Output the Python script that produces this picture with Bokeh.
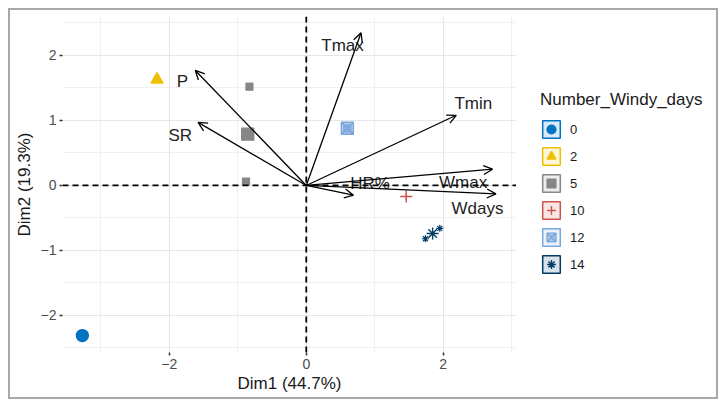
import numpy as np
import pandas as pd
from bokeh.plotting import figure
from bokeh.layouts import row
from bokeh.models import (ColumnDataSource, Arrow, OpenHead, Span, Legend,
                          LegendItem, FixedTicker)
from bokeh.core.properties import value
from bokeh.embed import file_html
from bokeh.resources import INLINE

# ---------------- data ----------------
ind_x = [-3.27, -2.18, -0.83, -0.88, 1.46, 0.60, 1.74, 1.95]
ind_y = [-2.31, 1.63, 1.52, 0.06, -0.17, 0.88, -0.82, -0.66]
ind_group = ["0", "2", "5", "5", "10", "12", "14", "14"]

var_names = ["Tmax", "Tmin", "Wmax", "Wdays", "HR%", "P", "SR"]
var_x = [0.80, 2.19, 2.72, 2.77, 0.69, -1.62, -1.58]
var_y = [2.35, 1.08, 0.25, -0.13, -0.15, 1.77, 0.97]
lab_x = [0.53, 2.44, 2.29, 2.50, 0.93, -1.81, -1.84]
lab_y = [2.15, 1.26, 0.05, -0.35, 0.03, 1.60, 0.77]

groups = ["0", "2", "5", "10", "12", "14"]
colors = ["#0073C2", "#EFC000", "#868686", "#CD534C", "#7AA6DC", "#003C67"]
markers = ["circle", "triangle", "square", "cross", "square_x", "asterisk"]

x_ticks = [-2, 0, 2]
x_minor = [-3, -1, 1, 3]
y_ticks = [-2, -1, 0, 1, 2]
y_minor = [-2.5, -1.5, -0.5, 0.5, 1.5, 2.5]

FONT = "Liberation Sans"

df = pd.DataFrame({"x": ind_x, "y": ind_y, "g": ind_group})
means = df.groupby("g", sort=False)[["x", "y"]].mean()

p = figure(frame_width=454, frame_height=336,
           x_range=(-3.56, 3.07), y_range=(-2.57, 2.6),
           output_backend="svg", toolbar_location=None,
           min_border_left=52, min_border_right=0, min_border_top=6,
           min_border_bottom=45)
p.outline_line_color = None
p.background_fill_color = "white"

p.xaxis.ticker = FixedTicker(ticks=x_ticks, minor_ticks=x_minor)
p.yaxis.ticker = FixedTicker(ticks=y_ticks, minor_ticks=y_minor)
p.xaxis.major_label_overrides = {t: str(t).replace("-", "\u2212") for t in x_ticks}
p.yaxis.major_label_overrides = {t: str(t).replace("-", "\u2212") for t in y_ticks}
for ax in (p.xaxis, p.yaxis):
    ax.axis_line_color = None
    ax.major_tick_in = 0
    ax.major_tick_out = 3
    ax.major_tick_line_color = "#333333"
    ax.major_tick_line_width = 1.5
    ax.minor_tick_line_color = None
    ax.major_label_text_font = FONT
    ax.major_label_text_font_size = "14px"
    ax.major_label_text_color = "#4D4D4D"
    ax.axis_label_text_font = FONT
    ax.axis_label_text_font_size = "17px"
    ax.axis_label_text_font_style = "normal"
    ax.axis_label_text_color = "#1A1A1A"
p.xaxis.axis_label = "Dim1 (44.7%)"
p.yaxis.axis_label = "Dim2 (19.3%)"
p.xaxis.major_label_standoff = 2
p.yaxis.major_label_standoff = 2
p.xaxis.axis_label_standoff = 2
p.yaxis.axis_label_standoff = 4

for g in (p.xgrid, p.ygrid):
    g.grid_line_color = "#E6E6E6"
    g.grid_line_width = 1
    g.minor_grid_line_color = "#F0F0F0"
    g.minor_grid_line_width = 1

p.add_layout(Span(location=0, dimension="width", line_color="black",
                  line_dash="6 4", line_width=1.8))
p.add_layout(Span(location=0, dimension="height", line_color="black",
                  line_dash="6 4", line_width=1.8))

# arrows
asrc = ColumnDataSource(dict(x0=[0] * len(var_x), y0=[0] * len(var_y),
                             x1=var_x, y1=var_y))
p.add_layout(Arrow(source=asrc, x_start="x0", y_start="y0", x_end="x1", y_end="y1",
                   line_color="black", line_width=1.3,
                   end=OpenHead(size=9, line_color="black", line_width=1.3)))
p.text(x=lab_x, y=lab_y, text=var_names, text_align="center",
       text_baseline="middle", text_font=value(FONT), text_font_size="17px",
       text_color="#222222")

# legend panel (separate figure, same row)
lf = figure(width=200, height=387, x_range=(0, 1), y_range=(0, 1),
            x_axis_type=None, y_axis_type=None, output_backend="svg",
            toolbar_location=None, min_border=0)
lf.outline_line_color = None
lf.xgrid.visible = False
lf.ygrid.visible = False

items = []
for g, c, m in zip(groups, colors, markers):
    sub = df[df.g == g]
    alpha = 0.55 if m == "square_x" else 1.0
    p.scatter(sub.x, sub.y, marker=m, size=7, color=c, fill_alpha=alpha,
              line_width=1.2)
    p.scatter([means.loc[g, "x"]], [means.loc[g, "y"]], marker=m, size=12,
              color=c, fill_alpha=alpha, line_width=1.4)
    box = lf.rect(x=[np.nan], y=[np.nan], width=1, height=1, line_color=c,
                  line_width=1.5, fill_color=c, fill_alpha=0.15)
    mk = lf.scatter(x=[np.nan], y=[np.nan], marker=m, size=12, color=c,
                    fill_alpha=alpha, line_width=1.4)
    items.append(LegendItem(label=g, renderers=[box, mk]))

legend = Legend(items=items, title="Number_Windy_days", location=(24, 77))
legend.title_text_font = FONT
legend.title_text_font_size = "17px"
legend.title_text_font_style = "normal"
legend.title_text_color = "#1A1A1A"
legend.label_text_font = FONT
legend.label_text_font_size = "13px"
legend.label_text_color = "#1A1A1A"
legend.glyph_width = 22
legend.glyph_height = 22
legend.spacing = 5
legend.label_standoff = 8
legend.border_line_color = None
legend.background_fill_alpha = 0
legend.margin = 0
legend.padding = 4
legend.title_standoff = 8
lf.add_layout(legend, "center")

layout = row(p, lf, spacing=0,
             styles={"border": "2px solid #A8A8A8", "margin-left": "8px",
                     "margin-top": "8px"})

open("out.html", "w").write(file_html(layout, INLINE))
